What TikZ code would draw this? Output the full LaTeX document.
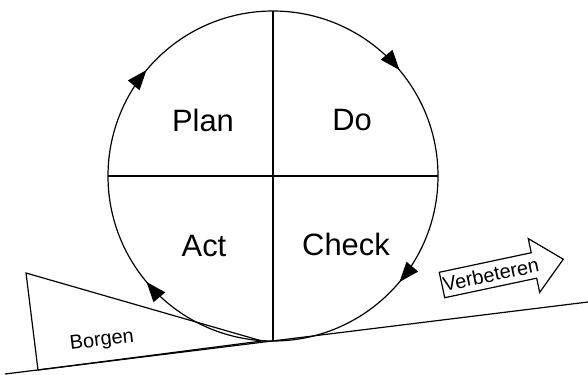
\documentclass[tikz,border=0pt]{standalone}
\usepackage{fontspec}
\setmainfont{Liberation Sans}
\usetikzlibrary{arrows.meta,decorations.markings}

\begin{document}
\begin{tikzpicture}[x=1bp,y=1bp,line width=1.2bp,
    quarter/.style={font=\fontsize{31}{31}\selectfont},
    small/.style={font=\fontsize{20}{20}\selectfont},
    cyclehead/.style={decoration={markings,
        mark=at position #1 with {\arrowreversed{Triangle[length=20bp,width=15bp]}}}},
    cyclearrows/.style={postaction={decorate,cyclehead=0.111},
        postaction={decorate,cyclehead=0.389},
        postaction={decorate,cyclehead=0.611},
        postaction={decorate,cyclehead=0.889}}]
    \useasboundingbox (0,0) rectangle (588,374);

    % Ground line and wedge
    \coordinate (gl) at (5,0);
    \coordinate (gr) at (588,72);
    \coordinate (wtop) at (26,101);
    \coordinate (wbot) at (38,4);
    \coordinate (wtip) at (262,33);
    \draw (gl) -- (gr);
    \draw (wtop) -- (wbot) -- (wtip) -- cycle;

    % Circle
    \coordinate (c) at (273,198);
    \draw[cyclearrows] (c) circle[radius=165];
    \coordinate (n) at (273,363);
    \coordinate (s) at (273,33);
    \coordinate (w) at (108,198);
    \coordinate (e) at (438,198);
    \draw (n) -- (s);
    \draw (w) -- (e);

    % Labels
    \node[quarter] (plan) at (203,254) {Plan};
    \node[quarter] (do) at (352,254) {Do};
    \node[quarter] (act) at (204,128) {Act};
    \node[quarter] (check) at (346,130) {Check};
    \node[small,rotate=7] (borgen) at (102,33) {Borgen};

    % Improvement arrow
    \begin{scope}[shift={(442,89)},rotate=12]
        \draw (0,-13) -- (0,13) -- (94,13) -- (94,27.5) -- (124,0)
            -- (94,-27.5) -- (94,-13) -- cycle;
        \node[small,rotate=12] (verbeteren) at (50,0) {Verbeteren};
    \end{scope}
\end{tikzpicture}
\end{document}
